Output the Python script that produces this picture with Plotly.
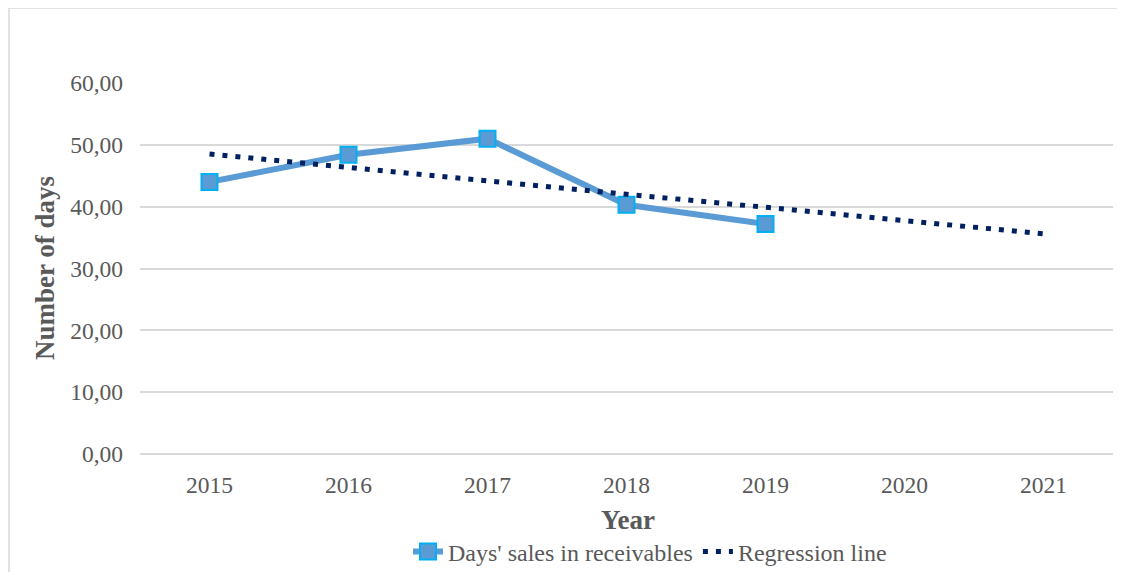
import plotly.graph_objects as go

years = ["2015", "2016", "2017", "2018", "2019", "2020", "2021"]
dsr_years = ["2015", "2016", "2017", "2018", "2019"]
dsr_values = [44.0, 48.4, 51.0, 40.3, 37.2]
reg_values = [48.5, 46.4, 44.2, 42.0, 39.9, 37.7, 35.6]
y_ticks = [0, 10, 20, 30, 40, 50, 60]
y_tick_labels = ["0,00", "10,00", "20,00", "30,00", "40,00", "50,00", "60,00"]

OFF = 8  # page body margin
W, H = 1125 - OFF, 572 - OFF
# plot area in page pixels: x 140..1113, y 83..454
L, R = 140 - OFF, 1125 - 1113
T, B = 83 - OFF, 572 - 454
pw, ph = W - L - R, H - T - B

def px_x(x):
    return (x - OFF - L) / pw

def px_y(y):
    return (T + ph - (y - OFF)) / ph

FONT = "Liberation Serif, Times New Roman, serif"
GREY = "#595959"

fig = go.Figure()
fig.add_trace(go.Scatter(
    x=dsr_years, y=dsr_values, mode="lines+markers",
    name="Days' sales in receivables",
    line=dict(color="#5B9BD5", width=6),
    marker=dict(symbol="square", size=16, color="#5B9BD5",
                line=dict(color="#00B0F0", width=2)),
))
fig.add_trace(go.Scatter(
    x=years, y=reg_values, mode="lines",
    name="Regression line",
    line=dict(color="#002060", width=5, dash="5px,8px"),
))

fig.update_layout(
    width=W, height=H,
    margin=dict(l=L, r=R, t=T, b=B, pad=0, autoexpand=False),
    paper_bgcolor="white", plot_bgcolor="white",
    font=dict(family=FONT, size=23, color=GREY),
    hovermode=False,
    showlegend=True,
    legend=dict(orientation="h", x=px_x(650), y=px_y(552),
                xanchor="center", yanchor="middle",
                font=dict(family=FONT, size=24, color=GREY),
                bgcolor="rgba(0,0,0,0)"),
    xaxis=dict(type="category", categoryorder="array", categoryarray=years,
               range=[-0.5, 6.5],
               showgrid=False, showline=False, zeroline=False,
               ticks="", ticklabelstandoff=14,
               tickfont=dict(family=FONT, size=23.5, color=GREY)),
    yaxis=dict(range=[0, 60], tickvals=y_ticks, ticktext=y_tick_labels,
               showgrid=True, gridcolor="#D9D9D9", gridwidth=1.5,
               zeroline=True, zerolinecolor="#D9D9D9", zerolinewidth=1.5,
               showline=False, ticks="", ticklabelstandoff=16,
               tickfont=dict(family=FONT, size=23.5, color=GREY)),
    annotations=[
        dict(text="<b>Number of days</b>", textangle=-90,
             x=px_x(45), y=px_y(268), xref="paper", yref="paper",
             xanchor="center", yanchor="middle", showarrow=False,
             font=dict(family=FONT, size=27, color=GREY)),
        dict(text="<b>Year</b>",
             x=px_x(628), y=px_y(520), xref="paper", yref="paper",
             xanchor="center", yanchor="middle", showarrow=False,
             font=dict(family=FONT, size=27, color=GREY)),
    ],
    shapes=[
        dict(type="rect", xref="paper", yref="paper",
             x0=px_x(9), x1=px_x(1140), y0=px_y(590), y1=px_y(8),
             line=dict(color="#D9D9D9", width=1.5), fillcolor="rgba(0,0,0,0)",
             layer="below"),
    ],
)

fig.write_html("out.html")
